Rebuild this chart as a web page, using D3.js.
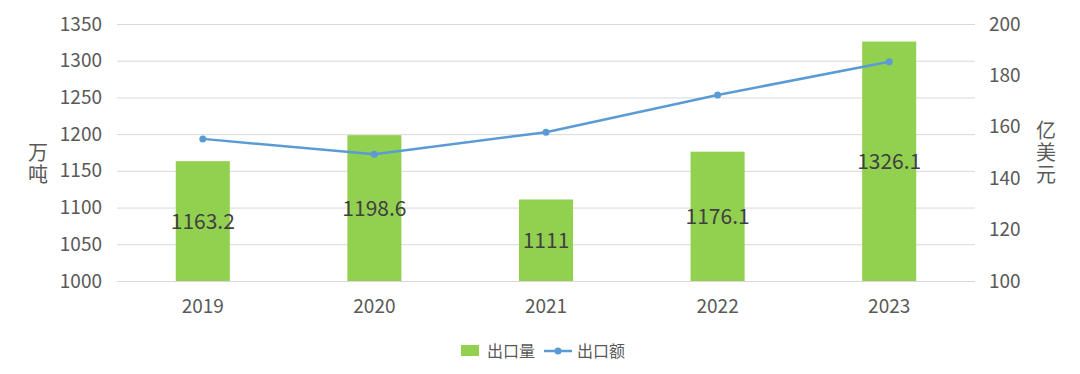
<!DOCTYPE html>
<html><head><meta charset="utf-8">
<script src="https://cdn.jsdelivr.net/npm/d3@7"></script>
<style>body{margin:0;background:#fff}svg{display:block}</style>
</head><body>
<svg id="c" width="1080" height="374"></svg>
<script>
const categories = ["2019","2020","2021","2022","2023"];
const volume = [1163.2, 1198.6, 1111, 1176.1, 1326.1];
const volumeLabels = ["1163.2","1198.6","1111","1176.1","1326.1"];
const value = [155.3, 149.3, 157.9, 172.4, 185.3];
const leftTicks = [1000,1050,1100,1150,1200,1250,1300,1350];
const rightTicks = [100,120,140,160,180,200];

const svg = d3.select("#c");
const font = "'Noto Sans CJK SC','Open Sans',sans-serif";
const m = {l:117, r:975, t:24, b:281};
const x = d3.scaleBand().domain(categories).range([m.l, m.r]);
const yL = d3.scaleLinear().domain([1000,1350]).range([m.b, m.t]);
const yR = d3.scaleLinear().domain([100,200]).range([m.b, m.t]);

// gridlines
svg.append("g").selectAll("line").data(leftTicks).join("line")
  .attr("x1", m.l).attr("x2", m.r)
  .attr("y1", d=>yL(d)+0.5).attr("y2", d=>yL(d)+0.5)
  .attr("stroke", "#d9d9d9").attr("stroke-width", 1);

// left axis
const ga = svg.append("g").attr("transform", `translate(${m.l},0)`)
  .call(d3.axisLeft(yL).tickValues(leftTicks).tickFormat(d3.format("d")).tickSize(0).tickPadding(15));
ga.select(".domain").remove();
ga.selectAll("text").attr("fill","#595959").style("font-size","19px").style("font-family",font);

const gr = svg.append("g").attr("transform", `translate(${m.r},0)`)
  .call(d3.axisRight(yR).tickValues(rightTicks).tickFormat(d3.format("d")).tickSize(0).tickPadding(14));
gr.select(".domain").remove();
gr.selectAll("text").attr("fill","#595959").style("font-size","19px").style("font-family",font);

const gx = svg.append("g").attr("transform", `translate(0,${m.b})`)
  .call(d3.axisBottom(x).tickSize(0).tickPadding(19));
gx.select(".domain").remove();
gx.selectAll("text").attr("fill","#595959").style("font-size","19px").style("font-family",font);

// bars
const bw = x.bandwidth()*0.315;
svg.append("g").selectAll("rect").data(volume).join("rect")
  .attr("x", (d,i)=>x(categories[i])+x.bandwidth()/2-bw/2)
  .attr("width", bw)
  .attr("y", d=>yL(d)).attr("height", d=>yL(1000)-yL(d))
  .attr("fill", "#92d050");

// bar labels
svg.append("g").selectAll("text").data(volume).join("text")
  .attr("x", (d,i)=>x(categories[i])+x.bandwidth()/2)
  .attr("y", d=>(yL(d)+yL(1000))/2)
  .attr("dy","0.36em").attr("text-anchor","middle")
  .attr("fill","#404040").style("font-size","21px").style("font-family",font)
  .text((d,i)=>volumeLabels[i]);

// line
const line = d3.line().x((d,i)=>x(categories[i])+x.bandwidth()/2).y(d=>yR(d));
svg.append("path").datum(value).attr("d", line)
  .attr("fill","none").attr("stroke","#5b9bd5").attr("stroke-width",2.5);
svg.append("g").selectAll("circle").data(value).join("circle")
  .attr("cx",(d,i)=>x(categories[i])+x.bandwidth()/2).attr("cy",d=>yR(d))
  .attr("r",3.5).attr("fill","#5b9bd5");

// axis titles (vertical, single text each)
function vtext(str, cx, cy){
  svg.append("text")
    .attr("x", cx).attr("y", cy)
    .attr("text-anchor","middle")
    .style("writing-mode","vertical-rl")
    .attr("fill","#595959").style("font-size","20px").style("font-family",font)
    .style("letter-spacing","2px")
    .text(str);
}
vtext("万吨", 38, 164);
vtext("亿美元", 1046, 153);

// legend
const lg = svg.append("g");
lg.append("rect").attr("x",461).attr("y",345).attr("width",18).attr("height",11).attr("fill","#92d050");
lg.append("text").attr("x",487).attr("y",351).attr("dy","0.36em").attr("fill","#595959")
  .style("font-size","16px").style("font-family",font).text("出口量");
lg.append("line").attr("x1",544).attr("x2",572).attr("y1",351).attr("y2",351)
  .attr("stroke","#5b9bd5").attr("stroke-width",2.5);
lg.append("circle").attr("cx",558).attr("cy",351).attr("r",3.5).attr("fill","#5b9bd5");
lg.append("text").attr("x",577).attr("y",351).attr("dy","0.36em").attr("fill","#595959")
  .style("font-size","16px").style("font-family",font).text("出口额");
</script>
</body></html>
